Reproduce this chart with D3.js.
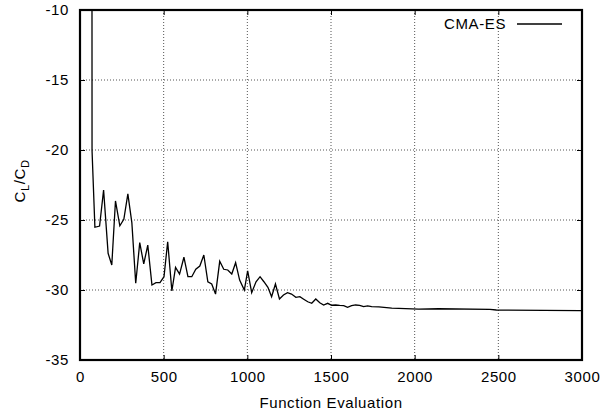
<!DOCTYPE html>
<html>
<head>
<meta charset="utf-8">
<script src="https://cdn.jsdelivr.net/npm/d3@7"></script>
<style>
  body { margin: 0; background: #fff; }
  text { font-family: "Liberation Sans", Arial, sans-serif; letter-spacing: 0.6px; }
</style>
</head>
<body>
<svg id="chart" width="616" height="415"></svg>
<script>
// evaluations and CL/CD value
const evals = [70, 72, 89, 117, 141, 168, 190, 212, 238, 262, 286, 310, 333, 357, 381, 405, 430,
  454, 478, 502, 524, 549, 571, 595, 621, 645, 668, 692, 716, 740, 764, 787, 810, 835,
  859, 883, 907, 930, 954, 982, 1002, 1026, 1052, 1076, 1099, 1123, 1145, 1168, 1192,
  1216, 1240, 1264, 1290, 1314, 1337, 1361, 1385, 1409, 1433, 1456, 1480, 1504, 1528,
  1552, 1576, 1599, 1623, 1647, 1671, 1695, 1719, 1743, 1786, 1863, 1905, 2024, 2143,
  2450, 2488, 2986, 3000]
const clcd = [40, -20.05, -25.52, -25.43, -22.86, -27.38, -28.21, -23.64, -25.41, -24.95, -23.14,
  -25.21, -29.52, -26.62, -28.14, -26.79, -29.64, -29.48, -29.48, -29.05, -26.55, -30.07,
  -28.38, -28.86, -27.66, -29.05, -29.05, -28.52, -28.29, -27.5, -29.41, -29.57, -30.29,
  -27.95, -28.52, -28.57, -28.86, -28.05, -29.29, -30.0, -28.64, -30.19, -29.41, -29.05,
  -29.41, -29.81, -30.48, -29.57, -30.64, -30.36, -30.19, -30.29, -30.52, -30.48, -30.66,
  -30.84, -30.95, -30.64, -30.91, -31.07, -30.95, -31.09, -31.07, -31.1, -31.12, -31.24,
  -31.12, -31.07, -31.1, -31.19, -31.14, -31.19, -31.21, -31.29, -31.31, -31.36, -31.34,
  -31.38, -31.43, -31.48, -31.48]
const xTicks = [0, 500, 1000, 1500, 2000, 2500, 3000]
const yTicks = [-35, -30, -25, -20, -15, -10]
const seriesName = 'CMA-ES'

const width = 616, height = 415
const marginLeft = 80, marginRight = 34, marginTop = 10, marginBottom = 55
const boundWidth = width - marginLeft - marginRight
const boundHeight = height - marginTop - marginBottom
const fontSize = 15

const svg = d3.select('#chart')

const x = d3.scaleLinear().domain([0, 3000]).range([0, boundWidth])
const y = d3.scaleLinear().domain([-35, -10]).range([boundHeight, 0])

const bounds = svg.append('g')
    .attr('transform', `translate(${marginLeft},${marginTop})`)

// grid
bounds.append('g')
    .selectAll('line')
    .data(xTicks.slice(1, -1))
    .join('line')
      .attr('x1', d => x(d)).attr('x2', d => x(d))
      .attr('y1', 0).attr('y2', boundHeight)
      .attr('stroke', '#555').attr('stroke-width', 1)
      .attr('stroke-dasharray', '1,2')
bounds.append('g')
    .selectAll('line')
    .data(yTicks.slice(1, -1))
    .join('line')
      .attr('y1', d => y(d)).attr('y2', d => y(d))
      .attr('x1', 0).attr('x2', boundWidth)
      .attr('stroke', '#555').attr('stroke-width', 1)
      .attr('stroke-dasharray', '1,2')

// axes (ticks inward, mirrored)
const tickLen = 5
const fmt = d => String(d)
const xAxis = bounds.append('g')
    .attr('transform', `translate(0,${boundHeight})`)
    .call(d3.axisBottom(x).tickValues(xTicks).tickSize(-tickLen).tickPadding(11).tickFormat(fmt))
const xAxisTop = bounds.append('g')
    .call(d3.axisTop(x).tickValues(xTicks).tickSize(-tickLen).tickFormat(''))
const yAxis = bounds.append('g')
    .call(d3.axisLeft(y).tickValues(yTicks).tickSize(-tickLen).tickPadding(11).tickFormat(fmt))
const yAxisRight = bounds.append('g')
    .attr('transform', `translate(${boundWidth},0)`)
    .call(d3.axisRight(y).tickValues(yTicks).tickSize(-tickLen).tickFormat(''))

;[xAxis, xAxisTop, yAxis, yAxisRight].forEach(a => {
  a.select('.domain').remove()
  a.selectAll('line').attr('stroke', '#000').attr('stroke-width', 1)
  a.selectAll('text').attr('font-size', fontSize).attr('fill', '#000')
    .style('font-family', '"Liberation Sans", Arial, sans-serif')
})

// data line
bounds.append('clipPath').attr('id', 'clip')
  .append('rect').attr('width', boundWidth).attr('height', boundHeight)

const line = d3.line()
    .x((d, i) => x(evals[i]))
    .y(d => y(d))

bounds.append('path')
    .datum(clcd)
    .attr('clip-path', 'url(#clip)')
    .attr('d', line)
    .attr('fill', 'none')
    .attr('stroke', '#000')
    .attr('stroke-width', 1.3)
    .attr('stroke-linejoin', 'miter')

// border
bounds.append('rect')
    .attr('width', boundWidth).attr('height', boundHeight)
    .attr('fill', 'none').attr('stroke', '#000').attr('stroke-width', 2.2)

// legend
bounds.append('text')
    .text(seriesName)
    .attr('x', 426).attr('y', 14)
    .attr('dy', '0.35em')
    .attr('text-anchor', 'end')
    .attr('font-size', fontSize)
bounds.append('line')
    .attr('x1', 437).attr('x2', 482)
    .attr('y1', 14).attr('y2', 14)
    .attr('stroke', '#000').attr('stroke-width', 1.3)

// axis titles
svg.append('text')
    .text('Function Evaluation')
    .attr('x', marginLeft + boundWidth / 2)
    .attr('y', 408)
    .attr('text-anchor', 'middle')
    .attr('font-size', fontSize)

const yTitle = svg.append('text')
    .attr('transform', `translate(25,${marginTop + boundHeight / 2 - 4}) rotate(-90)`)
    .attr('text-anchor', 'middle')
    .attr('font-size', fontSize)
yTitle.append('tspan').text('C')
yTitle.append('tspan').text('L').attr('font-size', 11).attr('dy', 4)
yTitle.append('tspan').text('/C').attr('dy', -4)
yTitle.append('tspan').text('D').attr('font-size', 11).attr('dy', 4)
</script>
</body>
</html>
